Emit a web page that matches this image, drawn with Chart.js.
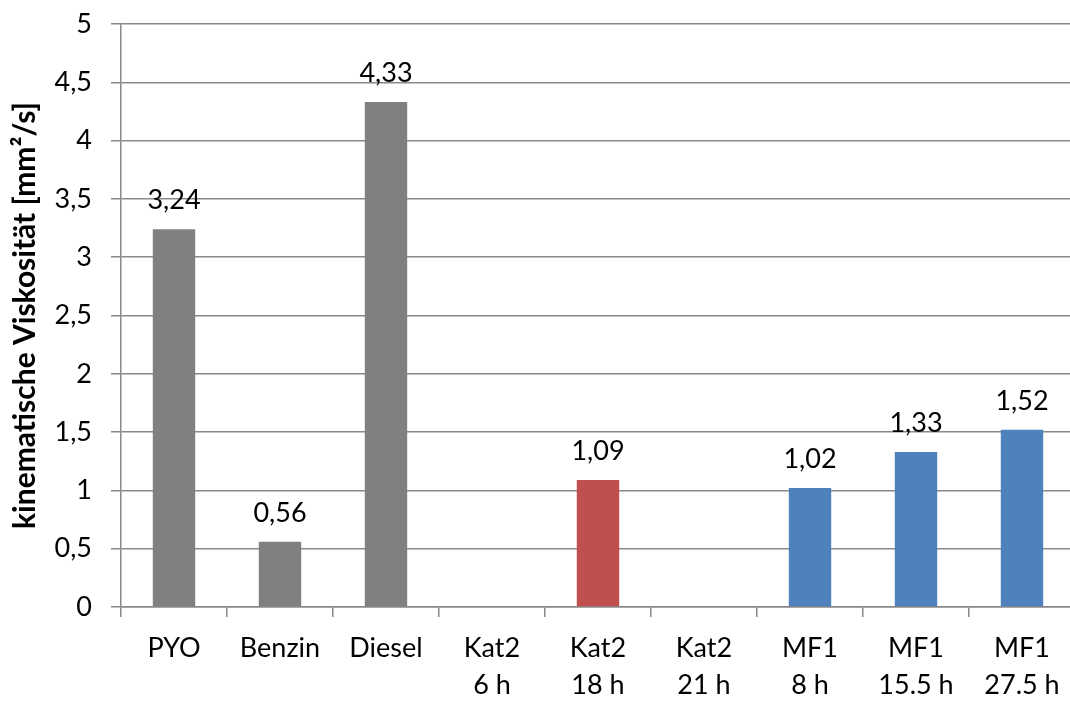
<!DOCTYPE html>
<html lang="de">
<head>
<meta charset="utf-8">
<title>Kinematische Viskosität</title>
<script src="https://cdn.jsdelivr.net/npm/chart.js@4/dist/chart.umd.min.js"></script>
<style>
  html, body { margin: 0; padding: 0; background: #fff; overflow: hidden; }
  #wrap { width: 1100px; height: 701px; }
</style>
</head>
<body>
<div id="wrap"><canvas id="chart" width="1100" height="701"></canvas></div>
<script>
'use strict';

// ─── Data ─────────────────────────────────────────────────────────────────────

const labels = [
  ['PYO'], ['Benzin'], ['Diesel'],
  ['Kat2', '6 h'], ['Kat2', '18 h'], ['Kat2', '21 h'],
  ['MF1', '8 h'], ['MF1', '15.5 h'], ['MF1', '27.5 h'],
];
const viscosity = [3.24, 0.56, 4.33, null, 1.09, null, 1.02, 1.33, 1.52];
const groups    = ['ref', 'ref', 'ref', 'kat', 'kat', 'kat', 'mf', 'mf', 'mf'];

const GREY = '#808080';
const RED  = '#c0504d';
const BLUE = '#4f81bd';
const AXIS = '#898989';
const groupColor = { ref: GREY, kat: RED, mf: BLUE };

const FONT = "Lato, 'Open Sans', sans-serif";
const SIZE = 27;

const fmt = v => v.toFixed(2).replace('.', ',');

// ─── Value labels above bars ──────────────────────────────────────────────────

const valueLabels = {
  id: 'valueLabels',
  afterDatasetsDraw(chart) {
    const { ctx } = chart;
    const meta = chart.getDatasetMeta(0);
    ctx.save();
    ctx.font = `${SIZE}px ${FONT}`;
    ctx.fillStyle = '#000';
    ctx.textAlign = 'center';
    ctx.textBaseline = 'alphabetic';
    meta.data.forEach((bar, i) => {
      const v = chart.data.datasets[0].data[i];
      if (v == null) return;
      ctx.fillText(fmt(v), bar.x, bar.y - 20);
    });
    ctx.restore();
  },
};

// ─── Chart ────────────────────────────────────────────────────────────────────

new Chart(document.getElementById('chart'), {
  type: 'bar',
  data: {
    labels,
    datasets: [{
      data: viscosity,
      backgroundColor: groups.map(g => groupColor[g]),
      barPercentage: 0.4,
      categoryPercentage: 1,
      borderWidth: 0,
    }],
  },
  options: {
    responsive: false,
    animation: false,
    events: [],
    layout: { padding: { top: 24, right: 25, left: 0, bottom: 0 } },
    plugins: {
      legend: { display: false },
      tooltip: { enabled: false },
    },
    scales: {
      x: {
        afterFit: s => { s.height = 94; },
        border: { color: AXIS, width: 1.5 },
        grid: {
          offset: true,
          drawOnChartArea: false,
          drawTicks: true,
          tickLength: 10,
          color: AXIS,
          lineWidth: 1.5,
        },
        ticks: {
          color: '#000',
          padding: 12,
          maxRotation: 0,
          autoSkip: false,
          font: { family: FONT, size: SIZE, lineHeight: 1.4 },
        },
      },
      y: {
        min: 0,
        max: 5,
        // fixed axis box: 121 px wide, no extra room for the top label
        afterFit: s => { s.width = 121; s.paddingTop = 0; s.paddingBottom = 0; },
        border: { color: AXIS, width: 1.5 },
        grid: {
          color: AXIS,
          lineWidth: 1.5,
          tickLength: 10,
        },
        ticks: {
          stepSize: 0.5,
          color: '#000',
          padding: 19,
          font: { family: FONT, size: SIZE, lineHeight: 1.2 },
          callback: v => String(v).replace('.', ','),
        },
        title: {
          display: true,
          text: 'kinematische Viskosität [mm²/s]',
          color: '#000',
          padding: { top: 7, bottom: 0 },
          font: { family: FONT, size: 30, weight: 'bold', lineHeight: 1.2 },
        },
      },
    },
  },
  plugins: [valueLabels],
});
</script>
</body>
</html>
